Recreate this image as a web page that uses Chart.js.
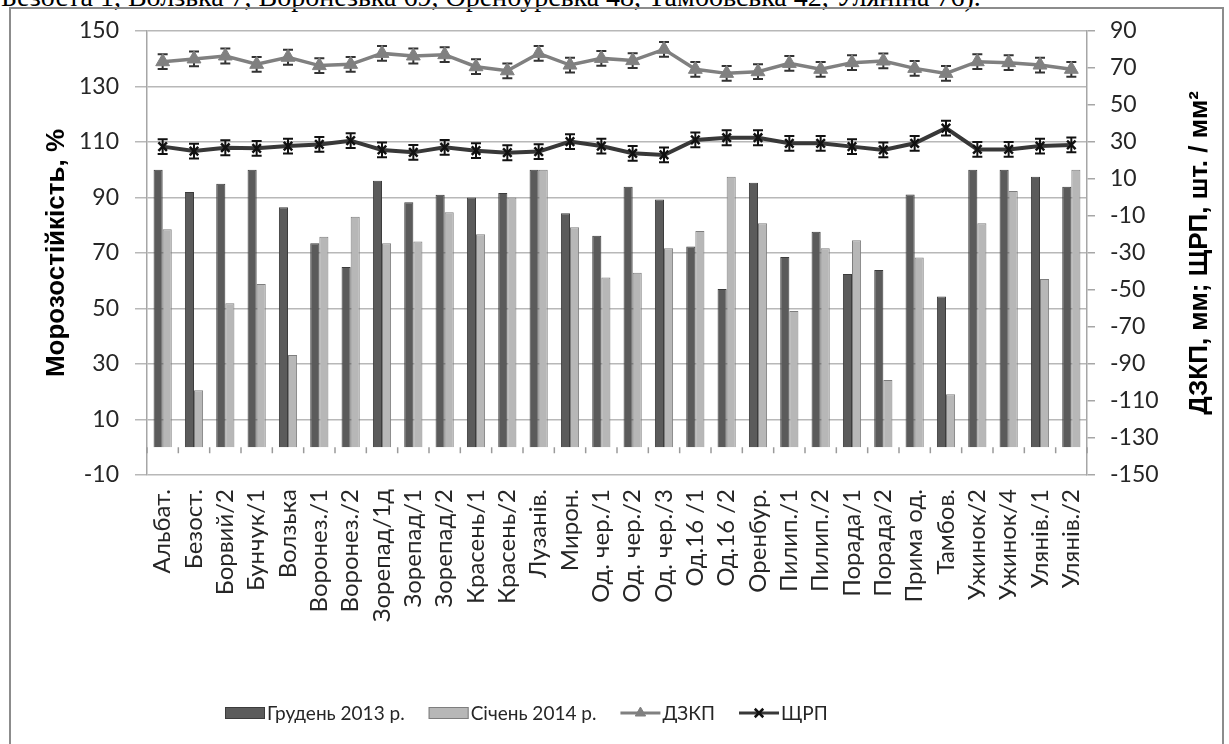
<!DOCTYPE html>
<html lang="uk">
<head>
<meta charset="utf-8">
<script src="https://cdn.jsdelivr.net/npm/chart.js@4.4.1/dist/chart.umd.min.js"></script>
<style>
    html, body { margin: 0; padding: 0; background: #fff; overflow: hidden; }
    #wrap { position: relative; width: 1229px; height: 744px; overflow: hidden; }
    #topText { position: absolute; left: 1px; top: -17px; font: 28px/28px "Liberation Serif", serif; white-space: nowrap; color: #000; }
    #frame { position: absolute; left: 9px; top: 7px; width: 1211px; height: 800px; border: 2px solid #8c8c8c; }
    #chart { position: absolute; left: 0; top: 0; }
</style>
</head>
<body>
<div id="wrap">
    <div id="topText">Безоста 1, Волзька 7, Воронезька 69, Оренбурська 48, Тамбовська 42, Уляніна 76).</div>
    <div id="frame"></div>
    <canvas id="chart" width="1229" height="744"></canvas>
</div>
<script>
// --- Дані ---
const categories = ['Альбат.', 'Безост.', 'Борвий/2', 'Бунчук/1', 'Волзька', 'Воронез./1', 'Воронез./2',
    'Зорепад/1д', 'Зорепад/1', 'Зорепад/2', 'Красень/1', 'Красень/2', 'Лузанів.', 'Мирон.',
    'Од. чер./1', 'Од. чер./2', 'Од. чер./3', 'Од.16 /1', 'Од.16 /2', 'Оренбур.', 'Пилип./1',
    'Пилип./2', 'Порада/1', 'Порада/2', 'Прима од.', 'Тамбов.', 'Ужинок/2', 'Ужинок/4',
    'Улянів./1', 'Улянів./2'];

const dec2013 = [100, 92, 95, 100, 86.5, 73.5, 65, 96, 88.3, 91, 90, 91.6, 100, 84.3, 76.2,
    93.9, 89.3, 72.3, 57, 95.3, 68.6, 77.7, 62.4, 63.9, 91.1, 54.3, 100, 100, 97.5, 93.9];
const jan2014 = [78.6, 20.5, 51.9, 58.8, 33.2, 75.9, 83.1, 73.5, 74.1, 84.7, 76.8, 90, 100, 79.3, 61.2,
    62.9, 71.7, 77.9, 97.5, 80.7, 49.1, 71.7, 74.6, 24.2, 68.4, 19.1, 80.7, 92.3, 60.6, 100];
const dzkp = [73.4, 74.9, 76.5, 72, 75.8, 71.3, 72, 77.9, 76.5, 77.2, 70.7, 68.5, 77.9, 71.6, 75.2,
    74, 80.1, 69.3, 67.1, 68, 72.5, 69.3, 72.9, 73.8, 69.8, 67.1, 73.4, 72.9, 71.6, 69.3];
const shrp = [27.5, 25.1, 26.9, 26.6, 27.8, 28.7, 30.7, 25.7, 24.4, 27.1, 25.3, 24.2, 24.8, 30.2, 27.8,
    23.9, 23, 31.1, 32.3, 32.3, 29.3, 29.3, 27.5, 25.7, 29.3, 37.5, 26, 26, 27.8, 28.4];
const dzkpErr = [4, 4, 4, 4, 4, 4, 4, 4, 4, 4, 4, 4, 4, 4, 4, 4, 4, 4, 4, 4, 4, 4, 4, 4, 4, 4, 4, 4, 4, 4];
const shrpErr = [4, 4, 4, 4, 4, 4, 4, 4, 4, 4, 4, 4, 4, 4, 4, 4, 4, 4, 4, 4, 4, 4, 4, 4, 4, 4, 4, 4, 4, 4];

const leftAxis = { min: -10, max: 150, step: 20, title: 'Морозостійкість, %' };
const rightAxis = { min: -150, max: 90, step: 20, title: 'ДЗКП, мм; ЩРП, шт. / мм²' };

const TICK_FONT = 'Lato, "Open Sans", sans-serif';
const TITLE_FONT = '"Liberation Sans", Arial, sans-serif';

// --- Плагіни ---

// довірчі інтервали для ліній
const errorBars = {
    id: 'errorBars',
    beforeDatasetsDraw(chart) {
        const ctx = chart.ctx;
        chart.data.datasets.forEach((ds, di) => {
            if (!ds.errors) return;
            const meta = chart.getDatasetMeta(di);
            const scale = chart.scales[ds.yAxisID];
            ctx.save();
            ctx.strokeStyle = ds.errorColor;
            ctx.lineWidth = 2;
            meta.data.forEach((pt, i) => {
                const top = scale.getPixelForValue(ds.data[i] + ds.errors[i]);
                const bot = scale.getPixelForValue(ds.data[i] - ds.errors[i]);
                ctx.beginPath();
                ctx.moveTo(pt.x, top); ctx.lineTo(pt.x, bot);
                ctx.moveTo(pt.x - 5, top); ctx.lineTo(pt.x + 5, top);
                ctx.moveTo(pt.x - 5, bot); ctx.lineTo(pt.x + 5, bot);
                ctx.stroke();
            });
            ctx.restore();
        });
    }
};

// мітки категорій на рівні 0
const categoryTicks = {
    id: 'categoryTicks',
    beforeDatasetsDraw(chart) {
        const { ctx, scales: { x, y } } = chart;
        const y0 = y.getPixelForValue(0);
        ctx.save();
        ctx.strokeStyle = '#9a9a9a';
        ctx.lineWidth = 1.5;
        for (let i = 0; i <= categories.length; i++) {
            const px = x.getPixelForValue(i - 0.5);
            ctx.beginPath();
            ctx.moveTo(px, y0);
            ctx.lineTo(px, y0 + 6);
            ctx.stroke();
        }
        ctx.restore();
    }
};

// заголовок правої осі (знизу вгору) і легенда
const extras = {
    id: 'extras',
    afterDraw(chart) {
        const { ctx, chartArea } = chart;
        ctx.save();
        ctx.translate(1200, (chartArea.top + chartArea.bottom) / 2);
        ctx.rotate(-Math.PI / 2);
        ctx.font = 'bold 26px ' + TITLE_FONT;
        ctx.fillStyle = '#000';
        ctx.textAlign = 'center';
        ctx.textBaseline = 'middle';
        ctx.fillText(rightAxis.title, 0, 0);
        ctx.restore();

        // легенда
        const yc = 713;
        let cx = 225;
        ctx.save();
        ctx.font = '19px ' + TICK_FONT;
        ctx.textBaseline = 'middle';
        chart.data.datasets.forEach(ds => {
            if (ds.type === 'bar') {
                ctx.fillStyle = ds.backgroundColor;
                ctx.fillRect(cx, yc - 6, 40, 12);
                ctx.strokeStyle = ds.borderColor;
                ctx.lineWidth = 1;
                ctx.strokeRect(cx + 0.5, yc - 5.5, 39, 11);
            } else {
                ctx.strokeStyle = ds.borderColor;
                ctx.lineWidth = 3;
                ctx.beginPath();
                ctx.moveTo(cx, yc);
                ctx.lineTo(cx + 40, yc);
                ctx.stroke();
                ctx.fillStyle = ds.pointBackgroundColor;
                ctx.strokeStyle = ds.pointBorderColor;
                ctx.lineWidth = ds.pointBorderWidth;
                Chart.helpers.drawPoint(ctx, {
                    pointStyle: ds.pointStyle,
                    radius: 6,
                    borderWidth: ds.pointBorderWidth
                }, cx + 20, yc);
            }
            ctx.fillStyle = '#262626';
            ctx.fillText(ds.label, cx + 42, yc + 1);
            cx += 42 + ctx.measureText(ds.label).width + 24;
        });
        ctx.restore();
    }
};

const ctx = document.getElementById('chart').getContext('2d');
const chart = new Chart(ctx, {
    data: {
        labels: categories,
        datasets: [
            {
                type: 'bar',
                label: 'Грудень 2013 р.',
                data: dec2013,
                yAxisID: 'y',
                backgroundColor: '#5b5b5b',
                borderColor: '#3c3c3c',
                borderWidth: 1,
                barPercentage: 1,
                categoryPercentage: 0.58,
                order: 3
            },
            {
                type: 'bar',
                label: 'Січень 2014 р.',
                data: jan2014,
                yAxisID: 'y',
                backgroundColor: '#b7b7b7',
                borderColor: '#7e7e7e',
                borderWidth: 1,
                barPercentage: 1,
                categoryPercentage: 0.58,
                order: 3
            },
            {
                type: 'line',
                label: 'ДЗКП',
                data: dzkp,
                errors: dzkpErr,
                errorColor: '#333333',
                yAxisID: 'y1',
                borderColor: '#808080',
                borderWidth: 3.5,
                pointStyle: 'triangle',
                pointRadius: 8,
                pointBackgroundColor: '#808080',
                pointBorderColor: '#808080',
                pointBorderWidth: 1,
                tension: 0,
                order: 1
            },
            {
                type: 'line',
                label: 'ЩРП',
                data: shrp,
                errors: shrpErr,
                errorColor: '#111111',
                yAxisID: 'y1',
                borderColor: '#383838',
                borderWidth: 4,
                pointStyle: 'crossRot',
                pointRadius: 6,
                pointBackgroundColor: '#111111',
                pointBorderColor: '#111111',
                pointBorderWidth: 2.5,
                tension: 0,
                order: 2
            }
        ]
    },
    options: {
        responsive: false,
        animation: false,
        layout: { padding: { left: 30, right: 8, top: 31, bottom: 0 } },
        plugins: {
            legend: { display: false },
            tooltip: { enabled: false }
        },
        scales: {
            x: {
                offset: true,
                grid: { display: false, drawTicks: false },
                border: { display: false },
                ticks: {
                    autoSkip: false,
                    maxRotation: 90,
                    minRotation: 90,
                    padding: 14,
                    color: '#262626',
                    font: { family: TICK_FONT, size: 24 }
                },
                afterFit(scale) { scale.height = 269; }
            },
            y: {
                position: 'left',
                min: leftAxis.min,
                max: leftAxis.max,
                grid: { color: '#b8b8b8', lineWidth: 1.5, tickLength: 12 },
                border: { color: '#a6a6a6', width: 1.5 },
                ticks: {
                    stepSize: leftAxis.step,
                    padding: 16,
                    color: '#262626',
                    font: { family: TICK_FONT, size: 23 }
                },
                title: {
                    display: true,
                    text: leftAxis.title,
                    color: '#000',
                    padding: { top: 11, bottom: 0 },
                    font: { family: TITLE_FONT, size: 26, weight: 'bold' }
                },
                afterFit(scale) { scale.width = 117; }
            },
            y1: {
                position: 'right',
                min: rightAxis.min,
                max: rightAxis.max,
                grid: { drawOnChartArea: false, color: '#a6a6a6', lineWidth: 1.5, tickLength: 8 },
                border: { color: '#a6a6a6', width: 1.5 },
                ticks: {
                    stepSize: rightAxis.step,
                    padding: 15,
                    color: '#262626',
                    font: { family: TICK_FONT, size: 23 }
                },
                afterFit(scale) { scale.width = 134; }
            }
        }
    },
    plugins: [errorBars, categoryTicks, extras]
});
</script>
</body>
</html>
